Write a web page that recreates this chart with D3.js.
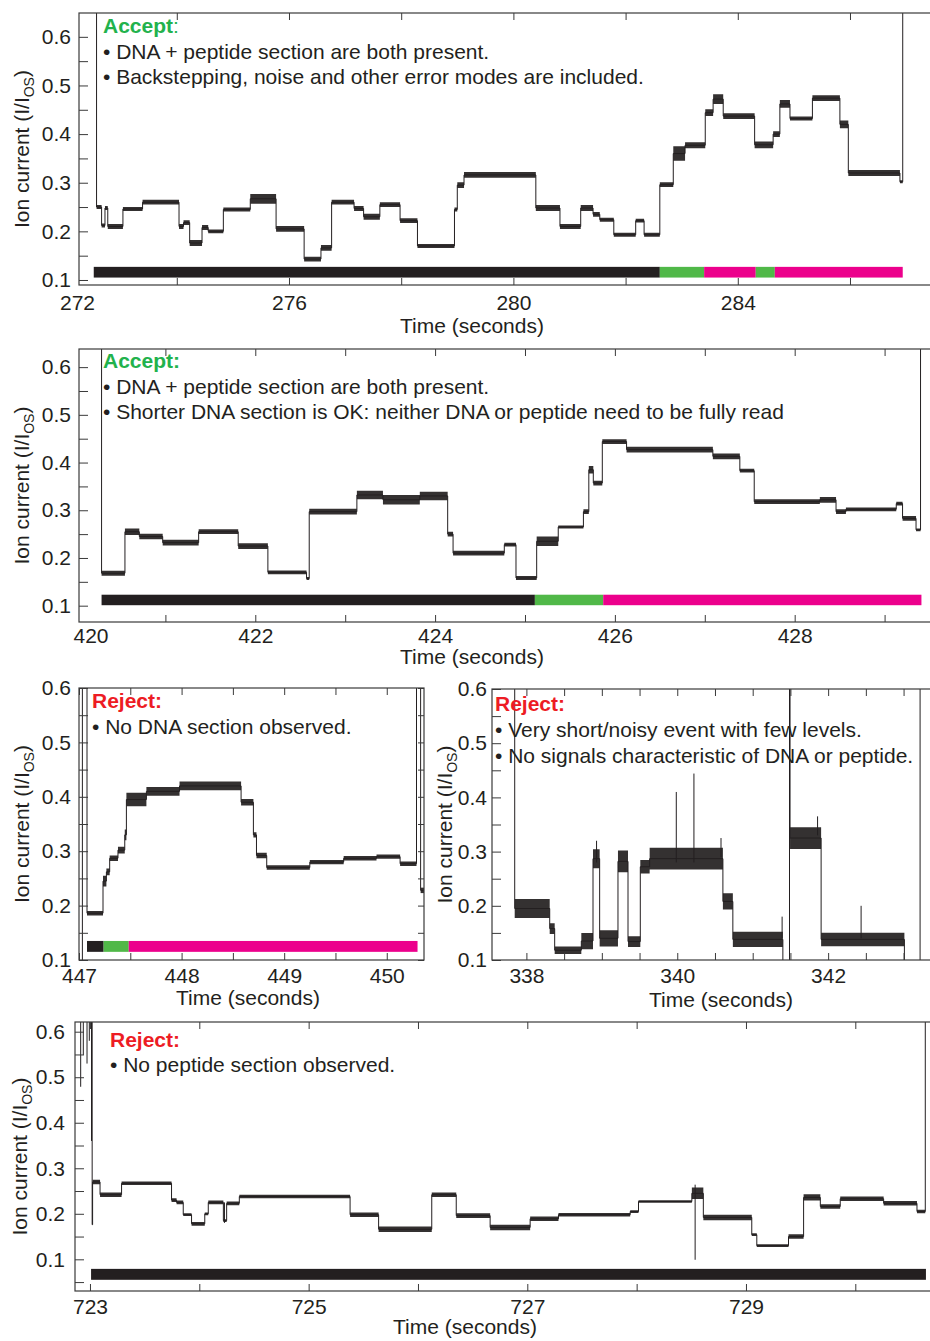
<!DOCTYPE html>
<html>
<head>
<meta charset="utf-8">
<script src="https://cdn.jsdelivr.net/npm/d3@7"></script>
<style>
  body { margin: 0; background: #fff; }
  svg text { font-family: "Liberation Sans", Arial, Helvetica, sans-serif; }
</style>
</head>
<body>
<script>
// ---------- data ----------
// trace segments: [start (s), end (s), level (I/Ios), noise spread (peak to peak)]
const traceA = [
  [272.57, 272.66, 0.250, 0.008], [272.66, 272.72, 0.212, 0.008], [272.72, 272.77, 0.248, 0.008],
  [272.77, 273.04, 0.210, 0.010], [273.04, 273.39, 0.246, 0.008], [273.39, 274.04, 0.260, 0.010],
  [274.04, 274.12, 0.210, 0.010], [274.12, 274.23, 0.218, 0.010], [274.23, 274.45, 0.176, 0.012],
  [274.45, 274.56, 0.208, 0.010], [274.56, 274.83, 0.200, 0.008], [274.83, 275.31, 0.245, 0.008],
  [275.31, 275.77, 0.267, 0.020], [275.77, 276.27, 0.205, 0.012], [276.27, 276.57, 0.143, 0.010],
  [276.57, 276.76, 0.166, 0.012], [276.76, 277.16, 0.260, 0.010], [277.16, 277.33, 0.247, 0.010],
  [277.33, 277.62, 0.230, 0.012], [277.62, 277.98, 0.255, 0.010], [277.98, 278.29, 0.222, 0.010],
  [278.29, 278.95, 0.170, 0.008], [278.95, 279.00, 0.245, 0.008], [279.00, 279.12, 0.295, 0.012],
  [279.12, 280.40, 0.316, 0.012], [280.40, 280.83, 0.248, 0.012], [280.83, 281.20, 0.210, 0.010],
  [281.20, 281.42, 0.248, 0.012], [281.42, 281.54, 0.235, 0.010], [281.54, 281.79, 0.224, 0.008],
  [281.79, 282.18, 0.193, 0.008], [282.18, 282.33, 0.222, 0.008], [282.33, 282.61, 0.193, 0.008],
  [282.61, 282.85, 0.296, 0.010], [282.85, 283.06, 0.360, 0.030], [283.06, 283.42, 0.377, 0.012],
  [283.42, 283.56, 0.444, 0.014], [283.56, 283.74, 0.472, 0.020], [283.74, 284.30, 0.437, 0.012],
  [284.30, 284.63, 0.378, 0.014], [284.63, 284.75, 0.400, 0.012], [284.75, 284.93, 0.462, 0.016],
  [284.93, 285.33, 0.432, 0.008], [285.33, 285.82, 0.474, 0.012], [285.82, 285.97, 0.420, 0.016],
  [285.97, 286.89, 0.320, 0.012], [286.89, 286.94, 0.302, 0.006]
];
const barsA = [[272.52, 282.61, "dna"], [282.61, 283.40, "tag"], [283.40, 284.32, "pep"],
               [284.32, 284.66, "tag"], [284.66, 286.94, "pep"]];

const traceB = [
  [420.29, 420.55, 0.168, 0.010], [420.55, 420.71, 0.255, 0.014], [420.71, 420.97, 0.245, 0.012],
  [420.97, 421.37, 0.232, 0.012], [421.37, 421.81, 0.255, 0.010], [421.81, 422.14, 0.225, 0.012],
  [422.14, 422.57, 0.170, 0.008], [422.57, 422.60, 0.157, 0.006], [422.60, 423.13, 0.297, 0.012],
  [423.13, 423.42, 0.332, 0.018], [423.42, 423.83, 0.322, 0.020], [423.83, 424.14, 0.330, 0.018],
  [424.14, 424.20, 0.250, 0.010], [424.20, 424.77, 0.210, 0.010], [424.77, 424.90, 0.228, 0.008],
  [424.90, 425.13, 0.158, 0.008], [425.13, 425.37, 0.235, 0.020], [425.37, 425.65, 0.265, 0.006],
  [425.65, 425.71, 0.297, 0.010], [425.71, 425.76, 0.385, 0.016], [425.76, 425.86, 0.357, 0.010],
  [425.86, 426.13, 0.444, 0.010], [426.13, 427.09, 0.427, 0.012], [427.09, 427.39, 0.413, 0.012],
  [427.39, 427.55, 0.383, 0.008], [427.55, 428.28, 0.318, 0.010], [428.28, 428.46, 0.322, 0.012],
  [428.46, 428.57, 0.297, 0.010], [428.57, 429.13, 0.302, 0.008], [429.13, 429.20, 0.314, 0.008],
  [429.20, 429.35, 0.283, 0.010], [429.35, 429.40, 0.259, 0.006]
];
const barsB = [[420.29, 425.11, "dna"], [425.11, 425.87, "tag"], [425.87, 429.41, "pep"]];

const traceC1 = [
  [447.078, 447.234, 0.186, 0.008], [447.234, 447.267, 0.245, 0.020], [447.267, 447.299, 0.262, 0.012],
  [447.299, 447.380, 0.287, 0.010], [447.380, 447.446, 0.302, 0.012], [447.446, 447.462, 0.330, 0.020],
  [447.462, 447.657, 0.395, 0.025], [447.657, 447.980, 0.410, 0.016], [447.980, 448.580, 0.420, 0.016],
  [448.580, 448.700, 0.390, 0.012], [448.700, 448.730, 0.330, 0.010], [448.730, 448.830, 0.292, 0.010],
  [448.830, 449.250, 0.270, 0.008], [449.250, 449.580, 0.280, 0.008], [449.580, 449.900, 0.287, 0.008],
  [449.900, 450.130, 0.290, 0.008], [450.130, 450.290, 0.277, 0.008]
];
const traceC2 = [[450.33, 450.37, 0.228, 0.010]];
const spikesC = [[447.033, 0.0, 0.7]];
const barsC = [[447.078, 447.24, "dna"], [447.24, 447.485, "tag"], [447.485, 450.30, "pep"]];

const traceD1 = [
  [337.845, 338.309, 0.195, 0.035], [338.309, 338.375, 0.158, 0.020], [338.375, 338.728, 0.118, 0.014],
  [338.728, 338.883, 0.135, 0.030], [338.883, 338.971, 0.287, 0.035], [338.971, 339.214, 0.140, 0.030],
  [339.214, 339.347, 0.282, 0.040], [339.347, 339.510, 0.134, 0.020], [339.510, 339.634, 0.272, 0.025],
  [339.634, 340.605, 0.287, 0.040], [340.605, 340.737, 0.208, 0.030], [340.737, 341.400, 0.138, 0.028],
  [341.400, 341.488, 0.050, 0]
];
const traceD2 = [
  [341.495, 341.907, 0.325, 0.040], [341.907, 343.011, 0.138, 0.025], [343.011, 343.219, 0.050, 0]
];
const spikesD = [[338.93, 0.28, 0.32], [339.987, 0.28, 0.41], [340.221, 0.28, 0.444],
                 [340.58, 0.29, 0.325], [341.39, 0.14, 0.18], [341.86, 0.33, 0.365], [342.437, 0.14, 0.20]];

const traceE = [
  [723.020, 723.024, 0.176, 0],     [723.024, 723.092, 0.270, 0.010], [723.092, 723.289, 0.242, 0.010],
  [723.289, 723.746, 0.267, 0.008], [723.746, 723.792, 0.230, 0.008], [723.792, 723.853, 0.225, 0.008],
  [723.853, 723.929, 0.198, 0.006], [723.929, 724.050, 0.178, 0.008], [724.050, 724.082, 0.200, 0.006],
  [724.082, 724.220, 0.225, 0.008], [724.220, 724.250, 0.185, 0.006], [724.250, 724.366, 0.223, 0.008],
  [724.366, 725.379, 0.238, 0.008], [725.379, 725.640, 0.198, 0.010], [725.640, 726.126, 0.166, 0.012],
  [726.126, 726.350, 0.242, 0.010], [726.350, 726.660, 0.196, 0.010], [726.660, 727.026, 0.170, 0.012],
  [727.026, 727.285, 0.189, 0.010], [727.285, 727.941, 0.198, 0.008], [727.941, 728.017, 0.205, 0.006],
  [728.017, 728.505, 0.227, 0.006], [728.505, 728.610, 0.245, 0.025], [728.610, 729.053, 0.192, 0.012],
  [729.053, 729.099, 0.154, 0.006], [729.099, 729.389, 0.130, 0.006], [729.389, 729.527, 0.150, 0.010],
  [729.527, 729.680, 0.236, 0.014], [729.680, 729.862, 0.216, 0.010], [729.862, 730.259, 0.233, 0.010],
  [730.259, 730.564, 0.223, 0.010], [730.564, 730.640, 0.205, 0.008]
];
const spikesE = [[722.915, 0.479, 0.7], [722.939, 0.549, 0.7], [722.973, 0.53, 0.7], [722.994, 0.58, 0.7],
                 [723.014, 0.36, 0.7], [724.23, 0.18, 0.225], [728.535, 0.099, 0.264]];
const barsE = [[723.01, 730.646, "dna"]];

// tick values and labels
const yMajor = [0.1, 0.2, 0.3, 0.4, 0.5, 0.6];
const yMinor = [0.05, 0.15, 0.25, 0.35, 0.45, 0.55];
const xTicksA = [274, 276, 278, 280, 282, 284, 286], xLabelsA = [276, 280, 284];
const xTicksB = [421, 422, 423, 424, 425, 426, 427, 428, 429], xLabelsB = [422, 424, 426, 428];
const xTicksC = [447, 447.5, 448, 448.5, 449, 449.5, 450], xLabelsC = [447, 448, 449, 450];
const xTicksD = [338, 338.5, 339, 339.5, 340, 340.5, 341, 341.5, 342, 342.5, 343], xLabelsD = [338, 340, 342];
const xTicksE = [723, 724, 725, 726, 727, 728, 729, 730], xLabelsE = [723, 725, 727, 729];

const notesA = ["• DNA + peptide section are both present.",
                "• Backstepping, noise and other error modes are included."];
const notesB = ["• DNA + peptide section are both present.",
                "• Shorter DNA section is OK: neither DNA or peptide need to be fully read"];
const notesC = ["• No DNA section observed."];
const notesD = ["• Very short/noisy event with few levels.",
                "• No signals characteristic of DNA or peptide."];
const notesE = ["• No peptide section observed."];

// ---------- style ----------
const INK = "#231f20";
const segColor = { dna: "#231f20", tag: "#50b848", pep: "#ec008c" };
const verdictColor = { Accept: "#22b24c", Reject: "#ed1c24" };
const FS = 21;

const svg = d3.select("body").append("svg")
    .attr("width", 930)
    .attr("height", 1341);

const panels = [
  { id: "a", left: 79, right: 936, top: 13, bottom: 285, xDomain: [272.257, 287.533], yDomain: [0.0897, 0.649],
    runs: [traceA], spikes: [], bars: barsA, barRange: [0.105, 0.127], xTicks: xTicksA, xLabels: xLabelsA,
    edgeLabel: { text: "272", dx: -1.5 }, xPad: 10, yPad: 8, yLabelX: 29, xTitle: [472, 333],
    verdict: "Accept", boldColon: false, notes: notesA, noteX: 103, noteY: 33, noteStep: 25.5 },
  { id: "b", left: 79, right: 936, top: 349, bottom: 622, xDomain: [420.039, 429.572], yDomain: [0.0658, 0.638],
    runs: [traceB], spikes: [], bars: barsB, barRange: [0.101, 0.123], xTicks: xTicksB, xLabels: xLabelsB,
    edgeLabel: { text: "420", dx: 12 }, xPad: 6, yPad: 8, yLabelX: 29, xTitle: [472, 664],
    verdict: "Accept", boldColon: true, notes: notesB, noteX: 103, noteY: 368, noteStep: 25.5 },
  { id: "c", left: 79, right: 424, top: 688, bottom: 960, xDomain: [447.0, 450.363], yDomain: [0.1, 0.6],
    runs: [traceC1, traceC2], spikes: spikesC, bars: barsC, barRange: [0.115, 0.135], xTicks: xTicksC, xLabels: xLabelsC,
    edgeLabel: null, xPad: 8, yPad: 8, yLabelX: 29, xTitle: [248, 1005],
    verdict: "Reject", boldColon: true, notes: notesC, noteX: 92, noteY: 708, noteStep: 25.5 },
  { id: "d", left: 492, right: 936, top: 689, bottom: 960, xDomain: [337.544, 343.43], yDomain: [0.1, 0.6],
    runs: [traceD1, traceD2], spikes: spikesD, bars: [], barRange: [0, 0], xTicks: xTicksD, xLabels: xLabelsD,
    edgeLabel: null, xPad: 8, yPad: 5, yLabelX: 452, xTitle: [721, 1007],
    verdict: "Reject", boldColon: true, notes: notesD, noteX: 495, noteY: 711, noteStep: 25.8 },
  { id: "e", left: 75, right: 936, top: 1022, bottom: 1291, xDomain: [722.863, 730.738], yDomain: [0.0304, 0.6213],
    runs: [traceE], spikes: spikesE, bars: barsE, barRange: [0.055, 0.079], xTicks: xTicksE, xLabels: xLabelsE,
    edgeLabel: null, xPad: 8, yPad: 10, yLabelX: 27, xTitle: [465, 1334],
    verdict: "Reject", boldColon: true, notes: notesE, noteX: 110, noteY: 1047, noteStep: 25 }
];

function styleAxis(sel) {
  sel.select(".domain").remove();
  sel.selectAll(".tick line").attr("stroke", "#3a3a3a");
  sel.selectAll(".tick text").attr("fill", INK).attr("font-size", FS)
     .attr("font-family", '"Liberation Sans", Arial, Helvetica, sans-serif');
}

function drawPanel(p) {
  const x = d3.scaleLinear().domain(p.xDomain).range([p.left, p.right]);
  const y = d3.scaleLinear().domain(p.yDomain).range([p.bottom, p.top]);
  const g = svg.append("g").attr("class", "panel-" + p.id);

  g.append("clipPath").attr("id", "clip-" + p.id)
    .append("rect")
    .attr("x", p.left).attr("y", p.top)
    .attr("width", p.right - p.left).attr("height", p.bottom - p.top);
  const plot = g.append("g").attr("clip-path", "url(#clip-" + p.id + ")");

  // coloured section bar under the trace
  plot.selectAll("rect.bar").data(p.bars).join("rect")
    .attr("class", "bar")
    .attr("x", d => x(d[0]))
    .attr("width", d => x(d[1]) - x(d[0]))
    .attr("y", y(p.barRange[1]))
    .attr("height", y(p.barRange[0]) - y(p.barRange[1]))
    .attr("fill", d => segColor[d[2]]);

  const above = p.yDomain[1] + 0.2;
  const band = d3.area().curve(d3.curveStepAfter)
    .x(d => x(d.t)).y0(d => y(d.v - d.s / 2)).y1(d => y(d.v + d.s / 2));
  const line = d3.line().curve(d3.curveStepAfter).x(d => x(d.t)).y(d => y(d.v));

  p.runs.forEach(run => {
    const pts = run.map(s => ({ t: s[0], v: s[2], s: s[3] }));
    const last = run[run.length - 1];
    pts.push({ t: last[1], v: last[2], s: last[3] });
    // noise band
    plot.append("path").datum(pts).attr("d", band)
      .attr("fill", INK).attr("fill-opacity", 0.92);
    // trace enters from the open-pore level and returns to it
    const linePts = [{ t: run[0][0], v: above }].concat(pts, [{ t: last[1], v: above }]);
    plot.append("path").datum(linePts).attr("d", line)
      .attr("fill", "none").attr("stroke", INK).attr("stroke-width", 1);
  });

  plot.selectAll("line.spike").data(p.spikes).join("line")
    .attr("class", "spike")
    .attr("x1", d => x(d[0])).attr("x2", d => x(d[0]))
    .attr("y1", d => y(d[1])).attr("y2", d => y(d[2]))
    .attr("stroke", INK).attr("stroke-width", 1);

  // axes, ticks pointing inward
  const yMaj = yMajor.filter(v => v >= p.yDomain[0] - 1e-6 && v <= p.yDomain[1] + 0.005);
  const yMin = yMinor.filter(v => v >= p.yDomain[0] && v <= p.yDomain[1]);
  g.append("g").attr("transform", `translate(${p.left},0)`)
    .call(d3.axisLeft(y).tickValues(yMin).tickSize(-9).tickFormat(""))
    .call(styleAxis);
  g.append("g").attr("transform", `translate(${p.left},0)`)
    .call(d3.axisLeft(y).tickValues(yMaj).tickSize(-9).tickPadding(p.yPad).tickFormat(d3.format(".1f")))
    .call(styleAxis);
  g.append("g").attr("transform", `translate(${p.right},0)`)
    .call(d3.axisRight(y).tickValues(yMaj.concat(yMin)).tickSize(-6).tickFormat(""))
    .call(styleAxis);
  g.append("g").attr("transform", `translate(0,${p.bottom})`)
    .call(d3.axisBottom(x).tickValues(p.xTicks).tickSize(-7).tickPadding(p.xPad)
      .tickFormat(d => p.xLabels.includes(d) ? d : ""))
    .call(styleAxis);
  g.append("g").attr("transform", `translate(0,${p.top})`)
    .call(d3.axisTop(x).tickValues(p.xTicks).tickSize(-7).tickFormat(""))
    .call(styleAxis);

  g.append("rect")
    .attr("x", p.left).attr("y", p.top)
    .attr("width", p.right - p.left).attr("height", p.bottom - p.top)
    .attr("fill", "none").attr("stroke", "#3a3a3a").attr("stroke-width", 1.2);

  if (p.edgeLabel) {
    g.append("text")
      .attr("x", p.left + p.edgeLabel.dx)
      .attr("y", p.bottom + p.xPad)
      .attr("dy", "0.71em")
      .attr("text-anchor", "middle")
      .attr("font-size", FS).attr("fill", INK)
      .text(p.edgeLabel.text);
  }

  // axis titles
  g.append("text")
    .attr("x", p.xTitle[0]).attr("y", p.xTitle[1])
    .attr("text-anchor", "middle").attr("font-size", FS).attr("fill", INK)
    .text("Time (seconds)");

  const yt = g.append("text")
    .attr("transform", `translate(${p.yLabelX},${(p.top + p.bottom) / 2}) rotate(-90)`)
    .attr("text-anchor", "middle").attr("font-size", FS).attr("fill", INK);
  yt.append("tspan").text("Ion current (I/I");
  yt.append("tspan").attr("font-size", 14).attr("dy", 5).text("OS");
  yt.append("tspan").attr("dy", -5).text(")");

  // verdict + bullet notes
  const head = g.append("text").attr("x", p.noteX).attr("y", p.noteY)
    .attr("font-size", FS).attr("fill", verdictColor[p.verdict]);
  head.append("tspan").attr("font-weight", "bold").text(p.verdict);
  head.append("tspan").attr("font-weight", p.boldColon ? "bold" : "normal").text(":");

  g.selectAll("text.note").data(p.notes).join("text")
    .attr("class", "note")
    .attr("x", p.noteX)
    .attr("y", (d, i) => p.noteY + (i + 1) * p.noteStep)
    .attr("font-size", FS).attr("fill", INK)
    .text(d => d);
}

panels.forEach(drawPanel);
</script>
</body>
</html>
